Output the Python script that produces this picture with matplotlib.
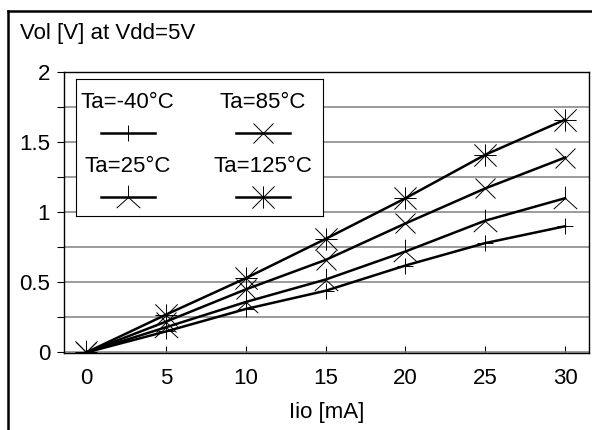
import numpy as np
import matplotlib
matplotlib.use("Agg")
import matplotlib.pyplot as plt
from matplotlib.path import Path
from matplotlib.lines import Line2D
from matplotlib.ticker import MultipleLocator

plt.rcParams['font.family'] = ['Liberation Sans', 'DejaVu Sans']

# data
iio = [0, 5, 10, 15, 20, 25, 30]
vol_m40 = [0, 0.15, 0.31, 0.44, 0.62, 0.78, 0.90]
vol_25 = [0, 0.18, 0.36, 0.52, 0.72, 0.94, 1.10]
vol_85 = [0, 0.22, 0.45, 0.66, 0.92, 1.17, 1.39]
vol_125 = [0, 0.27, 0.53, 0.81, 1.10, 1.41, 1.66]
labels = ['Ta=-40°C', 'Ta=25°C', 'Ta=85°C', 'Ta=125°C']

M, L = Path.MOVETO, Path.LINETO
# upside-down "Y": stub up, two legs down
wedge = Path([(0, 0), (0, 0.5), (0, 0), (-0.5, -0.45), (0, 0), (0.5, -0.45)],
             [M, L, M, L, M, L])
# 8 arm asterisk
star = Path([(-0.5, -0.5), (0.5, 0.5), (-0.5, 0.5), (0.5, -0.5),
             (0, -0.5), (0, 0.5), (-0.5, 0), (0.5, 0)],
            [M, L, M, L, M, L, M, L])

styles = [
    dict(marker='+', ms=12),
    dict(marker=wedge, ms=17),
    dict(marker='x', ms=14),
    dict(marker=star, ms=16),
]
series = [vol_m40, vol_25, vol_85, vol_125]
FS = 16

fig = plt.figure(figsize=(5.92, 4.30), dpi=100)
ax = fig.add_axes([64/592, 1-353/430, 525/592, 281/430])

for vals, st in zip(series, styles):
    ax.plot(iio, vals, color='black', lw=1.8, marker=st['marker'],
            ms=st['ms'], mec='black', mew=0.7, zorder=3)

ax.set_xlim(-1.4, 31.5)
ax.set_ylim(-0.004, 2)
ax.xaxis.set_major_locator(MultipleLocator(5))
ax.yaxis.set_major_locator(MultipleLocator(0.5))
ax.yaxis.set_minor_locator(MultipleLocator(0.25))
ax.yaxis.set_major_formatter(lambda v, p: f'{v:g}')
ax.grid(axis='y', which='both', color='#808080', lw=1.1)
ax.tick_params(axis='x', direction='in', length=5, width=0.8, pad=11,
               labelsize=FS)
ax.tick_params(axis='y', which='both', direction='out', length=5,
               width=0.8, pad=5, labelsize=FS)
for s in ax.spines.values():
    s.set_linewidth(1.0)
ax.set_xlabel('Iio [mA]', fontsize=FS, labelpad=9)

fig.text(20/592, 1-33/430, 'Vol [V] at Vdd=5V', fontsize=FS, va='center')

# legend box: text above each sample line
lg = fig.add_axes([76/592, 1-216/430, 247/592, 137/430])
lg.set_xlim(0, 1)
lg.set_ylim(0, 1)
lg.set_xticks([])
lg.set_yticks([])
for s in lg.spines.values():
    s.set_linewidth(0.8)
spots = [(0.21, 0.825, 0.606), (0.21, 0.358, 0.139),
         (0.757, 0.825, 0.606), (0.757, 0.358, 0.139)]
for (cx, ty, ly), lab, st in zip(spots, labels, styles):
    lg.text(cx, ty, lab, ha='center', va='center', fontsize=FS)
    lg.plot([cx-0.109, cx+0.109], [ly, ly], color='black', lw=1.8)
    lg.plot([cx], [ly], color='black', marker=st['marker'], ms=st['ms'],
            mew=0.7, ls='none')

# outer frame (top and left edges visible)
fig.add_artist(Line2D([8/592, 1], [1-11/430, 1-11/430], color='black',
                      lw=1.8, transform=fig.transFigure))
fig.add_artist(Line2D([8/592, 8/592], [0, 1-11/430], color='black',
                      lw=1.8, transform=fig.transFigure))

fig.savefig('out.png', dpi=100)
